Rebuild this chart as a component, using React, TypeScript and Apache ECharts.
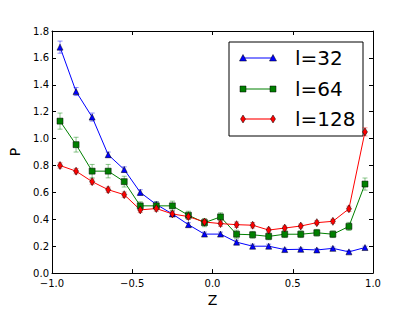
import React, { useEffect, useRef } from "react";
import * as echarts from "echarts";

const zValues = [-0.95, -0.85, -0.75, -0.65, -0.55, -0.45, -0.35, -0.25, -0.15, -0.05, 0.05, 0.15, 0.25, 0.35, 0.45, 0.55, 0.65, 0.75, 0.85, 0.95];

const seriesNames = ["l=32", "l=64", "l=128"];

const p32 = [1.68, 1.35, 1.16, 0.88, 0.77, 0.6, 0.51, 0.44, 0.36, 0.29, 0.29, 0.23, 0.2, 0.2, 0.175, 0.177, 0.172, 0.184, 0.158, 0.19];
const err32 = [0.045, 0.03, 0.03, 0.02, 0.02, 0.02, 0.02, 0.015, 0.015, 0.015, 0.015, 0.015, 0.015, 0.015, 0.01, 0.01, 0.01, 0.01, 0.01, 0.01];

const p64 = [1.13, 0.955, 0.758, 0.758, 0.68, 0.5, 0.5, 0.5, 0.43, 0.375, 0.418, 0.289, 0.285, 0.273, 0.289, 0.289, 0.3, 0.289, 0.347, 0.662];
const err64 = [0.06, 0.055, 0.05, 0.05, 0.04, 0.03, 0.03, 0.035, 0.03, 0.03, 0.03, 0.03, 0.025, 0.025, 0.025, 0.025, 0.025, 0.025, 0.03, 0.045];

const p128 = [0.8, 0.758, 0.68, 0.62, 0.583, 0.47, 0.48, 0.44, 0.42, 0.38, 0.368, 0.36, 0.356, 0.32, 0.335, 0.35, 0.375, 0.385, 0.478, 1.05];
const err128 = [0.02, 0.02, 0.02, 0.02, 0.02, 0.02, 0.02, 0.02, 0.02, 0.02, 0.02, 0.02, 0.02, 0.015, 0.015, 0.015, 0.015, 0.015, 0.02, 0.03];

const xTickValues = [-1.0, -0.5, 0.0, 0.5, 1.0];
const yTickValues = [0.0, 0.2, 0.4, 0.6, 0.8, 1.0, 1.2, 1.4, 1.6, 1.8];

const colors = ["#0000ff", "#008000", "#ff0000"];
const errColors = ["rgba(0,0,255,0.45)", "rgba(0,128,0,0.45)", "rgba(255,0,0,0.45)"];
const symbols = ["triangle", "rect", "diamond"];
const symbolSizes: any[] = [6, 6, [5, 8]];

const FONT = "DejaVu Sans";

function fmt(v: number) {
  const s = Math.abs(v).toFixed(1);
  return v < -1e-9 ? "\u2212" + s : s;
}

function errorSeries(vals: number[], errs: number[], color: string) {
  return {
    type: "custom",
    silent: true,
    z: 1,
    data: zValues.map((x, i) => [x, vals[i], errs[i]]),
    renderItem: (params: any, api: any) => {
      const x = api.value(0);
      const y = api.value(1);
      const e = api.value(2);
      const lo = api.coord([x, y - e]);
      const hi = api.coord([x, y + e]);
      const cw = 2.5;
      const style = { stroke: color, lineWidth: 1, fill: "none" };
      return {
        type: "group",
        children: [
          { type: "line", shape: { x1: lo[0], y1: lo[1], x2: hi[0], y2: hi[1] }, style },
          { type: "line", shape: { x1: lo[0] - cw, y1: lo[1], x2: lo[0] + cw, y2: lo[1] }, style },
          { type: "line", shape: { x1: hi[0] - cw, y1: hi[1], x2: hi[0] + cw, y2: hi[1] }, style },
        ],
      };
    },
  };
}

function lineSeries(idx: number, vals: number[]) {
  return {
    name: seriesNames[idx],
    type: "line",
    z: 2,
    data: zValues.map((x, i) => [x, vals[i]]),
    symbol: symbols[idx],
    symbolSize: symbolSizes[idx],
    showSymbol: true,
    lineStyle: { color: colors[idx], width: 1 },
    itemStyle: { color: colors[idx], borderColor: "#000", borderWidth: 0.5 },
  };
}

function legendGraphic() {
  const boxX = 229, boxY = 42, boxW = 134, boxH = 94;
  const rows = [58, 89, 119];
  const lx1 = 243, lx2 = 273;
  const children: any[] = [
    { type: "rect", shape: { x: boxX, y: boxY, width: boxW, height: boxH }, style: { fill: "#fff", stroke: "#000", lineWidth: 1 } },
  ];
  rows.forEach((ry, i) => {
    children.push({ type: "line", shape: { x1: lx1, y1: ry, x2: lx2, y2: ry }, style: { stroke: i === 2 ? "rgba(255,0,0,0.55)" : colors[i], lineWidth: i === 2 ? 2 : 1 } });
    [lx1, lx2].forEach((mx) => {
      if (i === 0) {
        children.push({ type: "polygon", shape: { points: [[mx, ry - 3.5], [mx - 3.5, ry + 3], [mx + 3.5, ry + 3]] }, style: { fill: colors[0], stroke: "#000", lineWidth: 0.5 } });
      } else if (i === 1) {
        children.push({ type: "rect", shape: { x: mx - 3, y: ry - 3, width: 6, height: 6 }, style: { fill: colors[1], stroke: "#000", lineWidth: 0.5 } });
      } else {
        children.push({ type: "polygon", shape: { points: [[mx, ry - 4], [mx + 2.5, ry], [mx, ry + 4], [mx - 2.5, ry]] }, style: { fill: colors[2], stroke: "#000", lineWidth: 0.5 } });
      }
    });
    children.push({
      type: "text",
      style: { x: 295, y: ry, text: seriesNames[i], fontSize: 20, fontFamily: FONT, fill: "#000", verticalAlign: "middle", align: "left" },
    });
  });
  return { type: "group", z: 100, children };
}

export default function App() {
  const ref = useRef<HTMLDivElement>(null);
  useEffect(() => {
    if (!ref.current) return;
    const chart = echarts.init(ref.current, null, { renderer: "svg" });
    const axisCommon = {
      axisLine: { show: true, onZero: false, lineStyle: { color: "#000", width: 1 } },
      axisTick: { show: true, inside: true, length: 4, lineStyle: { color: "#000" } },
      splitLine: { show: false },
    };
    chart.setOption({
      animation: false,
      backgroundColor: "#fff",
      grid: { left: 52, right: 42, top: 31, bottom: 32, containLabel: false },
      xAxis: [
        {
          type: "value",
          min: -1,
          max: 1,
          interval: 0.5,
          position: "bottom",
          name: "Z",
          nameLocation: "middle",
          nameGap: 17,
          nameTextStyle: { fontSize: 14, fontFamily: FONT, color: "#000" },
          ...axisCommon,
          axisLabel: { fontSize: 10, fontFamily: FONT, color: "#000", margin: 5, formatter: (v: number) => fmt(v), customValues: xTickValues },
        },
        {
          type: "value",
          min: -1,
          max: 1,
          interval: 0.5,
          position: "top",
          ...axisCommon,
          axisLabel: { show: false },
        },
      ],
      yAxis: [
        {
          type: "value",
          min: 0,
          max: 1.8,
          interval: 0.2,
          position: "left",
          name: "P",
          nameLocation: "middle",
          nameGap: 24,
          nameTextStyle: { fontSize: 14, fontFamily: FONT, color: "#000" },
          ...axisCommon,
          axisLabel: { fontSize: 10, fontFamily: FONT, color: "#000", margin: 3, formatter: (v: number) => fmt(v), customValues: yTickValues },
        },
        {
          type: "value",
          min: 0,
          max: 1.8,
          interval: 0.2,
          position: "right",
          ...axisCommon,
          axisLabel: { show: false },
        },
      ],
      series: [
        errorSeries(p32, err32, errColors[0]),
        lineSeries(0, p32),
        errorSeries(p64, err64, errColors[1]),
        lineSeries(1, p64),
        errorSeries(p128, err128, errColors[2]),
        lineSeries(2, p128),
      ],
      graphic: [legendGraphic()],
    });
    return () => chart.dispose();
  }, []);
  return <div ref={ref} style={{ width: 415, height: 312, position: "absolute", left: 0, top: 0 }} />;
}
